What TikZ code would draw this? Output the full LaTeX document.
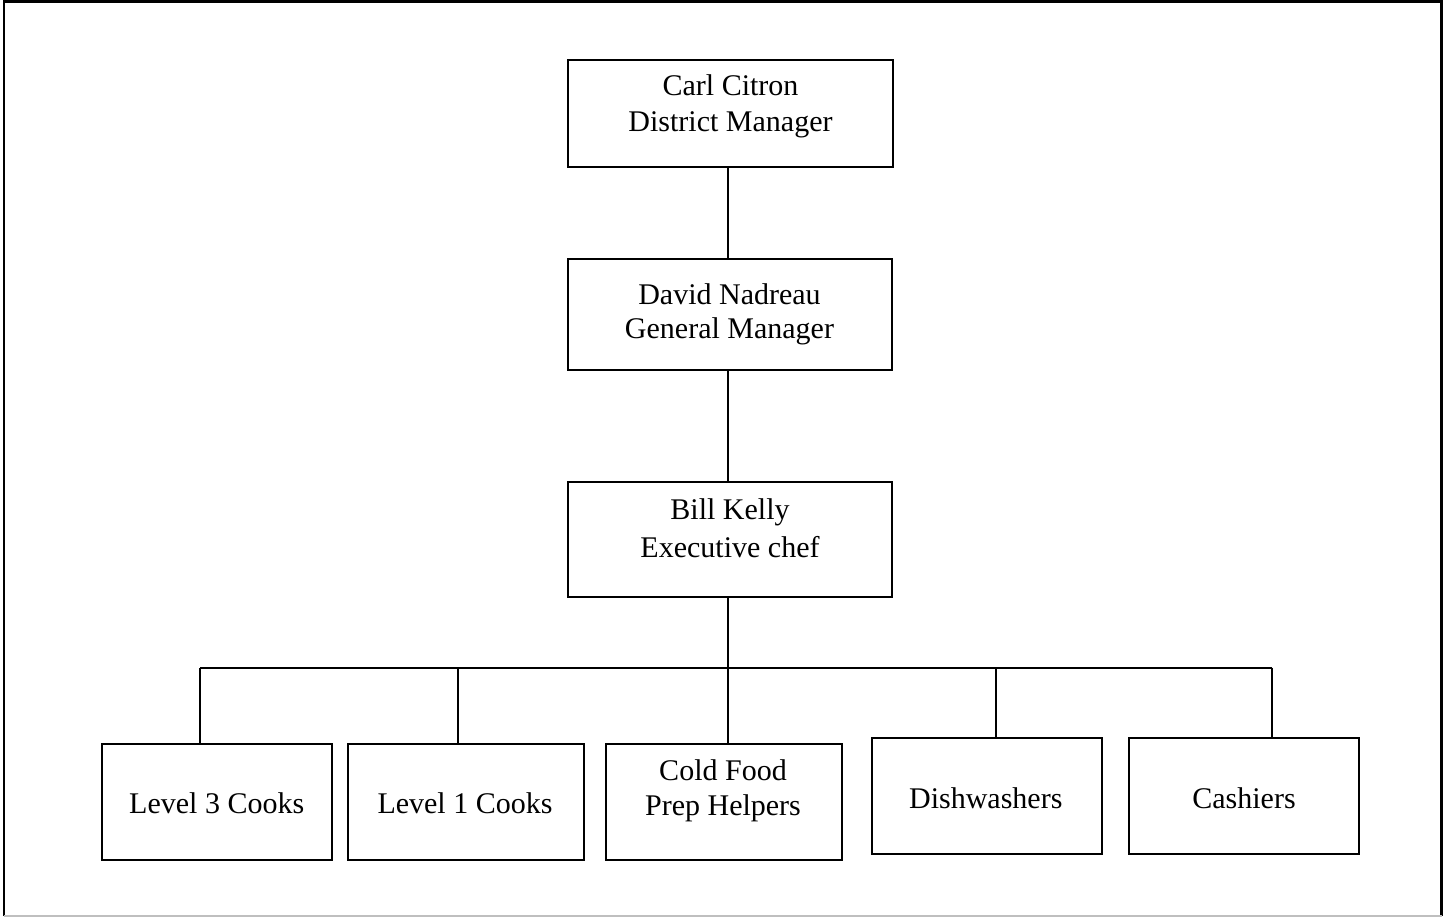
\documentclass[tikz,border=0pt]{standalone}
\usepackage{fontspec}
\setmainfont{Liberation Serif}
\begin{document}
\begin{tikzpicture}[x=1pt,y=-1pt,
  box/.style={draw, line width=1.8pt, inner sep=0pt},
  lbl/.style={font=\fontsize{30}{36}\selectfont, inner sep=0pt, anchor=base},
  wire/.style={line width=1.8pt},
  frame/.style={line width=2.2pt}]
\useasboundingbox (0,0) rectangle (1448,917);
% outer frame
\coordinate (fa) at (4,916);
\coordinate (fb) at (4,1.5);
\coordinate (fc) at (1441.5,1.5);
\coordinate (fd) at (1441.5,916);
\draw[frame] (fa) -- (fb) -- (fc) -- (fd);
\draw[line width=1.2pt, black!25] (fa) -- (fd);
% boxes
\node[box, minimum width=325, minimum height=107] (carl) at (730.8,113.3) {};
\node[box, minimum width=324.6, minimum height=110.7] (david) at (730,314.7) {};
\node[box, minimum width=324.6, minimum height=115] (bill) at (730,539.2) {};
\node[box, minimum width=230.3, minimum height=116] (l3) at (216.9,802) {};
\node[box, minimum width=236.3, minimum height=116] (l1) at (465.9,802) {};
\node[box, minimum width=236, minimum height=116] (cold) at (723.7,802) {};
\node[box, minimum width=230.3, minimum height=116] (dish) at (986.9,796) {};
\node[box, minimum width=230.3, minimum height=116] (cash) at (1243.9,796) {};
% texts
\node[lbl] (carlA) at (730.5,96) {Carl Citron};
\node[lbl] (carlB) at (730.5,132) {District Manager};
\node[lbl] (davidA) at (729.5,305) {David Nadreau};
\node[lbl] (davidB) at (729.5,338) {General Manager};
\node[lbl] (billA) at (730,519.5) {Bill Kelly};
\node[lbl] (billB) at (730,557) {Executive chef};
\node[lbl] (l3t) at (216.7,813) {Level 3 Cooks};
\node[lbl] (l1t) at (465,813) {Level 1 Cooks};
\node[lbl] (coldA) at (723,780) {Cold Food};
\node[lbl] (coldB) at (723,815) {Prep Helpers};
\node[lbl] (disht) at (985.8,808) {Dishwashers};
\node[lbl] (casht) at (1244,808) {Cashiers};
% connectors
\coordinate (spine) at (728,0);
\coordinate (bus) at (728,667.7);
\coordinate (d1) at (200,667.7);
\coordinate (d2) at (458,667.7);
\coordinate (d3) at (728,667.7);
\coordinate (d4) at (996,667.7);
\coordinate (d5) at (1271.7,667.7);
\draw[wire] (carl.south -| spine) -- (david.north -| spine);
\draw[wire] (david.south -| spine) -- (bill.north -| spine);
\draw[wire] (bill.south -| spine) -- (bus);
\draw[wire] (d1) -- (d5);
\draw[wire] (d1) -- (d1 |- l3.north);
\draw[wire] (d2) -- (d2 |- l1.north);
\draw[wire] (d3) -- (d3 |- cold.north);
\draw[wire] (d4) -- (d4 |- dish.north);
\draw[wire] (d5) -- (d5 |- cash.north);
\end{tikzpicture}
\end{document}
